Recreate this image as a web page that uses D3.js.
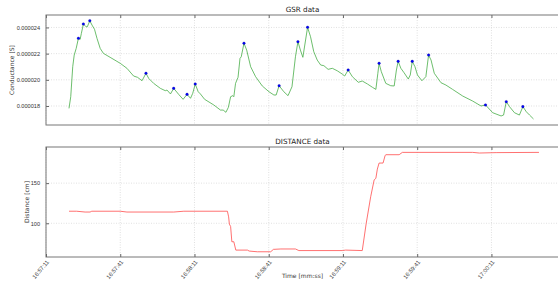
<!DOCTYPE html>
<html>
<head>
<meta charset="utf-8">
<script src="https://cdn.jsdelivr.net/npm/d3@7"></script>
<style>
  body { margin: 0; background: #fff; }
  svg { display: block; font-family: "DejaVu Sans", sans-serif; }
  .grid line { stroke: #d2d2d2; stroke-dasharray: 1,1.5; stroke-width: 0.7; }
  .tick text { fill: #333; }
</style>
</head>
<body>
<svg width="558" height="290"></svg>
<script>
// seconds after 16:57:11
var gsrTimes = [9.3, 10.0, 10.8, 11.4, 12.2, 13.1, 13.8, 14.3, 15.1, 16.2, 16.7, 17.7, 18.6, 19.6, 20.6, 21.9,
  23.2, 25.9, 30.0, 32.7, 35.4, 37.0, 38.8, 40.4, 41.5, 43.5, 46.2, 48.2, 48.9, 50.3, 51.6, 53.6, 55.4, 57.0,
  58.4, 59.3, 60.3, 61.5, 62.4, 64.1, 67.8, 70.5, 71.6, 72.7, 73.7, 74.6, 75.5, 75.9, 76.6, 77.6, 78.4, 78.9,
  80.0, 81.1, 82.7, 84.7, 87.4, 90.1, 92.1, 93.0, 94.2, 96.1, 97.8, 99.4, 100.8, 101.8, 102.8, 103.8, 104.9,
  105.7, 106.9, 108.2, 109.6, 111.0, 112.3, 114.0, 115.7, 117.7, 119.7, 120.7, 122.1, 123.8, 126.2, 127.8,
  129.9, 131.9, 133.3, 134.1, 134.6, 135.5, 137.3, 139.3, 140.7, 141.6, 142.3, 143.4, 144.7, 146.4, 147.2,
  148.0, 149.1, 150.1, 151.9, 153.5, 154.6, 155.6, 156.9, 159.6, 161.6, 164.3, 168.4, 172.4, 175.8, 177.6,
  180.5, 183.9, 184.9, 186.0, 187.3, 189.3, 191.3, 192.7, 194.1, 195.4, 197.0];
var gsrValues = [17.82e-6, 18.71e-6, 21.00e-6, 21.89e-6, 22.40e-6, 23.17e-6, 23.09e-6, 23.55e-6, 24.26e-6,
  24.05e-6, 24.05e-6, 24.51e-6, 24.18e-6, 23.86e-6, 23.17e-6, 22.40e-6, 22.02e-6, 21.72e-6, 21.26e-6, 20.88e-6,
  20.29e-6, 20.19e-6, 19.93e-6, 20.50e-6, 20.11e-6, 19.73e-6, 19.35e-6, 19.17e-6, 19.22e-6, 18.92e-6, 19.35e-6,
  18.89e-6, 18.51e-6, 18.89e-6, 18.59e-6, 18.97e-6, 19.68e-6, 19.09e-6, 18.92e-6, 18.51e-6, 18.08e-6, 17.69e-6,
  17.69e-6, 17.52e-6, 17.90e-6, 18.71e-6, 18.79e-6, 18.71e-6, 19.73e-6, 20.19e-6, 21.64e-6, 21.76e-6, 22.79e-6,
  22.27e-6, 21.00e-6, 20.24e-6, 19.53e-6, 19.09e-6, 18.84e-6, 18.84e-6, 19.55e-6, 19.09e-6, 18.79e-6, 19.47e-6,
  21.76e-6, 22.91e-6, 22.27e-6, 21.72e-6, 23.04e-6, 24.01e-6, 23.29e-6, 22.15e-6, 21.51e-6, 21.13e-6, 21.08e-6,
  20.80e-6, 20.88e-6, 20.69e-6, 20.44e-6, 20.29e-6, 20.75e-6, 20.24e-6, 19.81e-6, 19.91e-6, 19.68e-6, 19.43e-6,
  19.27e-6, 20.50e-6, 21.26e-6, 20.62e-6, 19.73e-6, 19.55e-6, 19.53e-6, 20.75e-6, 21.41e-6, 20.88e-6, 20.54e-6,
  20.06e-6, 20.37e-6, 21.41e-6, 21.00e-6, 20.37e-6, 19.93e-6, 20.24e-6, 21.89e-6, 21.51e-6, 20.50e-6, 19.78e-6,
  19.60e-6, 19.27e-6, 18.76e-6, 18.38e-6, 18.00e-6, 18.08e-6, 17.49e-6, 17.24e-6, 17.31e-6, 18.33e-6, 17.95e-6,
  17.49e-6, 17.31e-6, 17.95e-6, 17.56e-6, 17.31e-6, 17.01e-6];
var peakTimes = [13.1, 15.1, 17.7, 40.4, 51.6, 57.0, 60.3, 80.0, 94.2, 101.8, 105.7, 122.1, 134.6, 142.3,
  148.0, 154.6, 177.6, 186.0, 192.7];
var peakValues = [23.17e-6, 24.26e-6, 24.51e-6, 20.50e-6, 19.35e-6, 18.89e-6, 19.68e-6, 22.79e-6, 19.55e-6,
  22.91e-6, 24.01e-6, 20.75e-6, 21.26e-6, 21.41e-6, 21.41e-6, 21.89e-6, 18.08e-6, 18.33e-6, 17.95e-6];

var distTimes = [9.3, 12.4, 15.8, 17.8, 18.5, 30.0, 32.7, 51.6, 55.7, 73.3, 73.8, 74.1, 74.6, 75.1, 75.9,
  76.7, 81.4, 82.1, 85.4, 90.8, 91.9, 94.9, 100.8, 102.2, 119.7, 121.1, 127.8, 129.4, 131.2, 132.6, 133.3,
  133.9, 134.6, 136.2, 137.0, 137.3, 142.7, 144.0, 172.4, 175.1, 181.9, 199.2];
var distValues = [115, 115, 114, 114, 115, 115, 114, 114, 115, 115, 108, 99, 96, 77, 77, 66.6, 66.6, 65.4,
  64.5, 64.5, 67.5, 68, 68, 66, 66, 66.6, 66, 100, 133, 154, 156, 167.5, 175, 175, 184, 185.4, 185.4, 188.3,
  188.3, 187.5, 188, 188.3];

var gsrTicks = [18e-6, 20e-6, 22e-6, 24e-6];
var distTicks = [100, 150];
var start = new Date(2000, 0, 1, 16, 57, 11);
var timeTicks = d3.range(0, 7).map(function (i) { return d3.timeSecond.offset(start, i * 30); });

var svg = d3.select("svg");
var left = 46, right = 559;
var fmtTime = d3.timeFormat("%H:%M:%S");

function toDate(t) { return new Date(start.getTime() + t * 1000); }

var x = d3.scaleTime()
    .domain([start, toDate(207.3)])
    .range([left, right]);

function panel(top, bottom, yDomain, yTicks, yFmt, title, ylabel, labelX) {
  var y = d3.scaleLinear().domain(yDomain).range([bottom, top]);
  var g = svg.append("g");

  g.append("g").attr("class", "grid")
      .selectAll("line.v").data(timeTicks).enter().append("line")
      .attr("x1", function (d) { return x(d); }).attr("x2", function (d) { return x(d); })
      .attr("y1", top).attr("y2", bottom);
  g.append("g").attr("class", "grid")
      .selectAll("line.h").data(yTicks).enter().append("line")
      .attr("x1", left).attr("x2", right)
      .attr("y1", function (d) { return y(d); }).attr("y2", function (d) { return y(d); });

  g.append("g")
      .attr("transform", "translate(" + left + ",0)")
      .call(d3.axisLeft(y).tickValues(yTicks).tickFormat(yFmt).tickSizeInner(-3).tickSizeOuter(0).tickPadding(6))
      .call(function (a) {
        a.select(".domain").remove();
        a.selectAll("line").attr("stroke", "#666");
        a.selectAll("text").style("font-size", "5.6px");
      });
  g.append("g")
      .attr("transform", "translate(0," + top + ")")
      .call(d3.axisTop(x).tickValues(timeTicks).tickFormat("").tickSizeInner(-3).tickSizeOuter(0))
      .call(function (a) { a.select(".domain").remove(); a.selectAll("line").attr("stroke", "#666"); });

  g.append("rect")
      .attr("x", left).attr("y", top)
      .attr("width", right - left).attr("height", bottom - top)
      .attr("fill", "none").attr("stroke", "#777").attr("stroke-width", 1);

  g.append("text")
      .attr("x", (left + right) / 2).attr("y", top - 3)
      .attr("text-anchor", "middle").style("font-size", "7.2px").attr("fill", "#222")
      .text(title);
  g.append("text")
      .attr("transform", "translate(" + labelX + "," + (top + bottom) / 2 + ") rotate(-90)")
      .attr("text-anchor", "middle").style("font-size", "6px").attr("fill", "#333")
      .text(ylabel);
  return { g: g, y: y };
}

var top1 = panel(15, 125, [16.55e-6, 24.95e-6], gsrTicks, d3.format(".6f"), "GSR data", "Conductance [S]", 14);
var bot = panel(147, 257, [58, 195], distTicks, d3.format("d"), "DISTANCE data", "Distance [cm]", 29);

// bottom x axis with rotated labels
bot.g.append("g")
    .attr("transform", "translate(0,257)")
    .call(d3.axisBottom(x).tickValues(timeTicks).tickFormat(fmtTime).tickSizeInner(-3).tickSizeOuter(0).tickPadding(3))
    .call(function (a) {
      a.select(".domain").remove();
      a.selectAll("line").attr("stroke", "#666");
      a.selectAll("text")
          .style("font-size", "5.8px")
          .attr("text-anchor", "end")
          .attr("dy", "0.35em")
          .attr("transform", "translate(-1,2) rotate(-50)");
    });

svg.append("text")
    .attr("x", (left + right) / 2).attr("y", 278)
    .attr("text-anchor", "middle").style("font-size", "6px").attr("fill", "#333")
    .text("Time [mm:ss]");

var gsr = gsrTimes.map(function (t, i) { return [toDate(t), gsrValues[i]]; });
var dist = distTimes.map(function (t, i) { return [toDate(t), distValues[i]]; });

top1.g.append("path")
    .datum(gsr)
    .attr("fill", "none").attr("stroke", "#48ad48").attr("stroke-width", 0.8)
    .attr("d", d3.line().x(function (d) { return x(d[0]); }).y(function (d) { return top1.y(d[1]); }));

top1.g.selectAll("circle.peak")
    .data(peakTimes)
    .enter().append("circle")
    .attr("class", "peak")
    .attr("cx", function (t) { return x(toDate(t)); })
    .attr("cy", function (t, i) { return top1.y(peakValues[i]); })
    .attr("r", 1.3)
    .attr("fill", "#0000ff").attr("stroke", "#000080").attr("stroke-width", 0.3);

bot.g.append("path")
    .datum(dist)
    .attr("fill", "none").attr("stroke", "#ff4d4d").attr("stroke-width", 0.8)
    .attr("d", d3.line().x(function (d) { return x(d[0]); }).y(function (d) { return bot.y(d[1]); }));
</script>
</body>
</html>
